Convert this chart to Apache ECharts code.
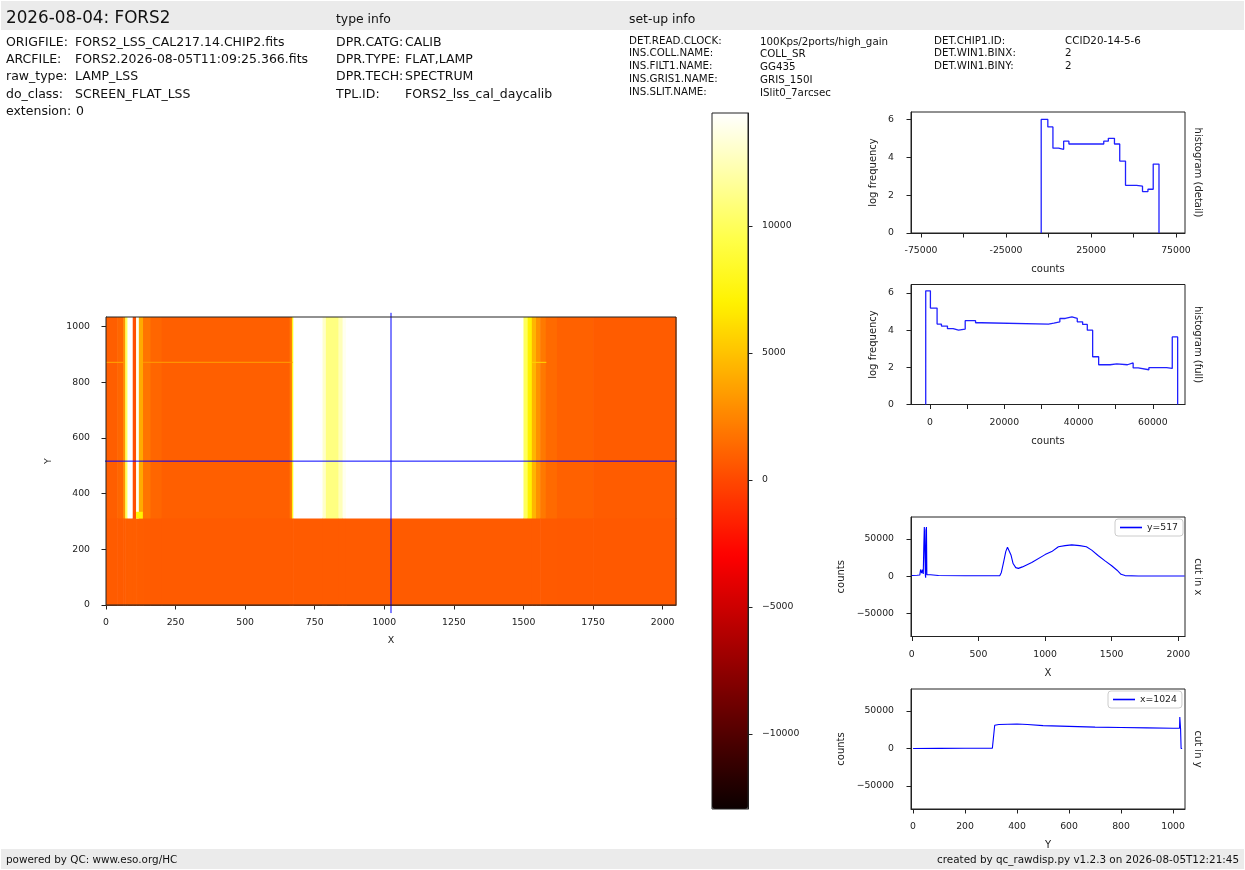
<!DOCTYPE html>
<html>
<head>
<meta charset="utf-8">
<title>FORS2 raw display</title>
<script src="https://cdn.jsdelivr.net/npm/echarts@6/dist/echarts.min.js"></script>
<style>
  html, body { margin: 0; padding: 0; background: #fff; }
  #main { width: 1245px; height: 870px; }
</style>
</head>
<body>
<div id="main"></div>
<script>
// header texts
const titleText = '2026-08-04: FORS2';
const fileKeys = ['ORIGFILE:', 'ARCFILE:', 'raw_type:', 'do_class:', 'extension:'];
const fileVals = ['FORS2_LSS_CAL217.14.CHIP2.fits', 'FORS2.2026-08-05T11:09:25.366.fits', 'LAMP_LSS', 'SCREEN_FLAT_LSS', '0'];
const typeKeys = ['DPR.CATG:', 'DPR.TYPE:', 'DPR.TECH:', 'TPL.ID:'];
const typeVals = ['CALIB', 'FLAT,LAMP', 'SPECTRUM', 'FORS2_lss_cal_daycalib'];
const setupKeys = ['DET.READ.CLOCK:', 'INS.COLL.NAME:', 'INS.FILT1.NAME:', 'INS.GRIS1.NAME:', 'INS.SLIT.NAME:'];
const setupVals = ['100Kps/2ports/high_gain', 'COLL_SR', 'GG435', 'GRIS_150I', 'ISlit0_7arcsec'];
const setupKeys2 = ['DET.CHIP1.ID:', 'DET.WIN1.BINX:', 'DET.WIN1.BINY:'];
const setupVals2 = ['CCID20-14-5-6', '2', '2'];
const footLeft = 'powered by QC: www.eso.org/HC';
const footRight = 'created by qc_rawdisp.py v1.2.3 on 2026-08-05T12:21:45';

const imgColEdges = [0, 40, 62, 69, 77, 96, 108, 118, 133, 160, 200, 660, 668, 673, 778, 790, 835, 850, 862, 1500, 1515, 1530, 1545, 1560, 1580, 1620, 1750, 2048];
const imgUpper = [900, 1200, 3000, 10000, 40000, 300, 14000, 4000, 1800, 1200, 950, 2000, 8000, 30000, 13000, 11000, 12500, 14000, 30000, 10000, 7000, 4500, 3000, 2000, 1400, 1000, 800];
const imgLower = [750, 750, 800, 850, 900, 900, 900, 850, 800, 780, 760, 760, 760, 760, 760, 760, 760, 760, 760, 760, 760, 760, 760, 740, 720, 700, 680];
const imgRowEdges = [0, 313, 1035];
// small features: x0, x1, y0, y1, counts
const imgSpots = [
  [0, 62, 872, 874, 3500],
  [133, 668, 872, 874, 3000],
  [1530, 1580, 872, 874, 5500],
  [108, 130, 313, 335, 7000]
];
const crossX = 1024, crossY = 517;
const crossXSpan = [-22, 2075], crossYSpan = [-29, 1050];

// colour bar
const cbarMin = -12950, cbarMax = 14450;
const cbarTicks = [-10000, -5000, 0, 5000, 10000];

// histogram (detail): bin edges and log frequency
const hdEdges = [-4300, -400, 2600, 5900, 8900, 12000, 32500, 35200, 38800, 41900, 45300, 51800, 55300, 58500, 61600, 65000];
const hdVals = [6.0, 5.6, 4.48, 4.42, 4.85, 4.7, 4.85, 5.0, 4.7, 3.8, 2.52, 2.47, 2.19, 2.31, 3.64];
// histogram (full)
const hfEdges = [-1170, 90, 1890, 3060, 4680, 6220, 7660, 9460, 12250, 13870, 31890, 33330, 34950, 36400, 38200, 39640, 41080, 42340, 43780, 45400, 48470, 50270, 53150, 54690, 56040, 58920, 63700, 65220, 66670];
const hfVals = [6.12, 5.19, 4.33, 4.22, 4.08, 4.0, 4.06, 4.51, 4.40, 4.33, 4.38, 4.45, 4.63, 4.72, 4.63, 4.45, 4.31, 4.0, 2.57, 2.14, 2.19, 2.14, 2.24, 1.97, 1.87, 1.98, 1.94, 3.64];

// cut in x at y=517
const cutXpos = [0, 40, 60, 66, 70, 74, 80, 86, 90, 94, 98, 102, 104, 106, 110, 113, 120, 140, 200, 400, 600, 660, 672, 690, 705, 718, 730, 745, 760, 780, 800, 830, 900, 1000, 1050, 1100, 1150, 1200, 1260, 1310, 1350, 1400, 1450, 1500, 1540, 1570, 1600, 1700, 1800, 2047];
const cutXval = [1000, 1200, 1500, 9000, 11000, 4000, 9000, 3000, 40000, 66000, 64000, 1000, -2000, 62000, 66000, 2000, 3000, 2000, 1000, 500, 500, 600, 5000, 20000, 33000, 39000, 37500, 28000, 17000, 11500, 10500, 12500, 18500, 29000, 33000, 39500, 41000, 42000, 41000, 39500, 35000, 27500, 20500, 14000, 8000, 2500, 800, 300, 200, 200];
// cut in y at x=1024
const cutYpos = [0, 100, 200, 305, 310, 314, 330, 400, 440, 500, 600, 700, 800, 900, 1000, 1025, 1026, 1029, 1031, 1035];
const cutYval = [0, 200, 300, 500, 1000, 31000, 32000, 32700, 32000, 30500, 29500, 28500, 28000, 27500, 27000, 27000, 42000, 26000, 0, 0];

const hotColors = ['#0b0000', '#470000', '#840000', '#c10000', '#fe0000', '#ff3c00', '#ff7900', '#ffb600', '#fff200', '#ffff48', '#ffffa4', '#ffffff'];
const font = 'DejaVu Sans';
const ink = '#222222';

// build image cells
const imgCells = [];
for (let i = 0; i < imgUpper.length; i++) {
  imgCells.push([imgColEdges[i], imgColEdges[i + 1], imgRowEdges[0], imgRowEdges[1], imgLower[i]]);
  imgCells.push([imgColEdges[i], imgColEdges[i + 1], imgRowEdges[1], imgRowEdges[2], imgUpper[i]]);
}
imgSpots.forEach(s => imgCells.push(s));

function stepData(edges, vals) {
  const d = [[edges[0], 0]];
  vals.forEach((v, i) => d.push([edges[i], v]));
  d.push([edges[edges.length - 1], vals[vals.length - 1]]);
  d.push([edges[edges.length - 1], 0]);
  return d;
}
const zip = (a, b) => a.map((v, i) => [v, b[i]]);
const uminus = v => (v < 0 ? '\u2212' + Math.abs(v) : String(v));

function axis(o) {
  return {
    type: 'value', gridIndex: o.grid, min: o.min, max: o.max, position: o.pos,
    axisLine: { show: true, onZero: false, lineStyle: { color: ink, width: 1 } },
    axisTick: { show: true, length: 4.5, customValues: o.ticks, lineStyle: { color: ink, width: 1 } },
    axisLabel: {
      show: true, customValues: o.labels || o.ticks, margin: o.margin,
      fontSize: 9.3, fontFamily: font, color: ink, formatter: o.fmt || (v => String(v))
    },
    splitLine: { show: false },
    name: o.name || '', nameLocation: 'middle', nameGap: o.gap || 0, nameRotate: o.rot,
    nameTextStyle: { fontSize: o.nameSize || 10, fontFamily: font, color: ink }
  };
}
function sideLabel(grid, text) {
  return {
    type: 'value', gridIndex: grid, min: 0, max: 1, position: 'right',
    axisLine: { show: false }, axisTick: { show: false }, axisLabel: { show: false }, splitLine: { show: false },
    name: text, nameLocation: 'middle', nameGap: 8, nameRotate: -90,
    nameTextStyle: { fontSize: 10, fontFamily: font, color: ink }
  };
}

// header graphics
const graphics = [
  { type: 'rect', shape: { x: 1, y: 1, width: 1243, height: 29 }, style: { fill: '#ebebeb' }, silent: true },
  { type: 'rect', shape: { x: 1, y: 849, width: 1243, height: 20 }, style: { fill: '#ebebeb' }, silent: true }
];
function txt(x, y, text, size, align) {
  graphics.push({ type: 'text', x: x, y: y, silent: true,
    style: { text: text, font: size + 'px "' + font + '"', fill: '#111', textAlign: align || 'left', textVerticalAlign: 'middle' } });
}
txt(6, 19, titleText, 16.8);
txt(336, 20, 'type info', 12.4);
txt(629, 20, 'set-up info', 12.4);
fileKeys.forEach((k, i) => { txt(6, 42.5 + i * 17.3, k, 12.5); txt(i === 4 ? 76 : 75, 42.5 + i * 17.3, fileVals[i], 12.5); });
typeKeys.forEach((k, i) => { txt(336, 42.5 + i * 17.3, k, 12.5); txt(405, 42.5 + i * 17.3, typeVals[i], 12.5); });
setupKeys.forEach((k, i) => { txt(629, 41 + i * 12.75, k, 10.3); txt(760, 42 + i * 12.75, setupVals[i], 10.3); });
setupKeys2.forEach((k, i) => { txt(934, 41 + i * 12.75, k, 10.3); txt(1065, 41 + i * 12.75, setupVals2[i], 10.3); });
txt(6, 860.5, footLeft, 10.4);
txt(1239, 860.5, footRight, 10.4, 'right');

const legendBase = {
  orient: 'horizontal', padding: [4, 5, 4, 5], itemWidth: 22, itemHeight: 1.6, icon: 'rect',
  backgroundColor: 'rgba(255,255,255,0.8)', borderColor: '#cccccc', borderWidth: 1, borderRadius: 3,
  textStyle: { fontSize: 9.3, fontFamily: font, color: ink }
};

const chart = echarts.init(document.getElementById('main'));
chart.setOption({
  animation: false,
  backgroundColor: '#ffffff',
  textStyle: { fontFamily: font },
  graphic: graphics,
  grid: [
    { left: 106, top: 317, width: 570, height: 288, show: true, z: 10, borderColor: ink, borderWidth: 1, backgroundColor: 'transparent' },
    { left: 911, top: 112, width: 274, height: 121, show: true, borderColor: ink, borderWidth: 1 },
    { left: 911, top: 284.5, width: 274, height: 120, show: true, borderColor: ink, borderWidth: 1 },
    { left: 911, top: 517, width: 274, height: 119.5, show: true, borderColor: ink, borderWidth: 1 },
    { left: 911, top: 689, width: 274, height: 120, show: true, borderColor: ink, borderWidth: 1 },
    { left: 712, top: 113, width: 36, height: 696, show: true, z: 10, borderColor: ink, borderWidth: 1, backgroundColor: 'transparent' }
  ],
  xAxis: [
    axis({ grid: 0, min: 0, max: 2048, pos: 'bottom', ticks: [0, 250, 500, 750, 1000, 1250, 1500, 1750, 2000], margin: 13.5, name: 'X', gap: 31, nameSize: 9.5 }),
    axis({ grid: 1, min: -80900, max: 80300, pos: 'bottom', ticks: [-75000, -50000, -25000, 0, 25000, 50000, 75000], labels: [-75000, -25000, 25000, 75000], margin: 13.5, name: 'counts', gap: 31.5 }),
    axis({ grid: 2, min: -5135, max: 68650, pos: 'bottom', ticks: [0, 10000, 20000, 30000, 40000, 50000, 60000], labels: [0, 20000, 40000, 60000], margin: 13.5, name: 'counts', gap: 31.5 }),
    axis({ grid: 3, min: -6, max: 2050, pos: 'bottom', ticks: [0, 500, 1000, 1500, 2000], margin: 13.5, name: 'X', gap: 31.5 }),
    axis({ grid: 4, min: -8, max: 1046, pos: 'bottom', ticks: [0, 200, 400, 600, 800, 1000], margin: 13.5, name: 'Y', gap: 31.5 }),
    { type: 'value', gridIndex: 5, min: 0, max: 1, show: false }
  ],
  yAxis: [
    axis({ grid: 0, min: 0, max: 1035, pos: 'left', ticks: [0, 200, 400, 600, 800, 1000], margin: 16, name: 'Y', gap: 52, rot: 90, nameSize: 9.5 }),
    axis({ grid: 1, min: 0, max: 6.39, pos: 'left', ticks: [0, 2, 4, 6], margin: 17, name: 'log frequency', gap: 32.5, rot: 90 }),
    axis({ grid: 2, min: 0, max: 6.46, pos: 'left', ticks: [0, 2, 4, 6], margin: 17, name: 'log frequency', gap: 32.5, rot: 90 }),
    axis({ grid: 3, min: -81000, max: 79500, pos: 'left', ticks: [-50000, 0, 50000], margin: 17, name: 'counts', gap: 65, rot: 90, fmt: uminus }),
    axis({ grid: 4, min: -80700, max: 79300, pos: 'left', ticks: [-50000, 0, 50000], margin: 17, name: 'counts', gap: 65, rot: 90, fmt: uminus }),
    axis({ grid: 5, min: cbarMin, max: cbarMax, pos: 'right', ticks: cbarTicks, margin: 14, fmt: uminus }),
    sideLabel(1, 'histogram (detail)'),
    sideLabel(2, 'histogram (full)'),
    sideLabel(3, 'cut in x'),
    sideLabel(4, 'cut in y')
  ],
  visualMap: {
    type: 'continuous', seriesIndex: 0, dimension: 4,
    min: cbarMin, max: cbarMax, orient: 'vertical',
    left: 712, top: 113, itemWidth: 36, itemHeight: 696, padding: 0,
    calculable: false, hoverLink: false, z: 4,
    inRange: { color: hotColors }
  },
  legend: [
    Object.assign({ data: ['y=517'], left: 1115, top: 519 }, legendBase),
    Object.assign({ data: ['x=1024'], left: 1108, top: 691 }, legendBase)
  ],
  series: [
    {
      type: 'custom', name: 'image', xAxisIndex: 0, yAxisIndex: 0,
      encode: { x: [0, 1], y: [2, 3] },
      data: imgCells,
      renderItem: function (params, api) {
        const p0 = api.coord([api.value(0), api.value(3)]);
        const p1 = api.coord([api.value(1), api.value(2)]);
        return {
          type: 'rect',
          shape: { x: p0[0], y: p0[1], width: p1[0] - p0[0] + 0.6, height: p1[1] - p0[1] + 0.6 },
          style: { fill: api.visual('color') }
        };
      }
    },
    {
      type: 'line', xAxisIndex: 0, yAxisIndex: 0, z: 5, clip: false, symbol: 'none', silent: true,
      data: [[crossX, crossYSpan[0]], [crossX, crossYSpan[1]]],
      lineStyle: { color: '#0000ff', width: 1 }
    },
    {
      type: 'line', xAxisIndex: 0, yAxisIndex: 0, z: 5, clip: false, symbol: 'none', silent: true,
      data: [[crossXSpan[0], crossY], [crossXSpan[1], crossY]],
      lineStyle: { color: '#0000ff', width: 1 }
    },
    {
      type: 'line', name: 'hist detail', xAxisIndex: 1, yAxisIndex: 1, step: 'end', symbol: 'none',
      data: stepData(hdEdges, hdVals), lineStyle: { color: '#2020ff', width: 1.3 }
    },
    {
      type: 'line', name: 'hist full', xAxisIndex: 2, yAxisIndex: 2, step: 'end', symbol: 'none',
      data: stepData(hfEdges, hfVals), lineStyle: { color: '#2020ff', width: 1.3 }
    },
    {
      type: 'line', name: 'y=517', xAxisIndex: 3, yAxisIndex: 3, symbol: 'none',
      data: zip(cutXpos, cutXval), lineStyle: { color: '#0000ff', width: 1.1 }, itemStyle: { color: '#0000ff' }
    },
    {
      type: 'line', name: 'x=1024', xAxisIndex: 4, yAxisIndex: 4, symbol: 'none',
      data: zip(cutYpos, cutYval), lineStyle: { color: '#0000ff', width: 1.1 }, itemStyle: { color: '#0000ff' }
    }
  ]
});
</script>
</body>
</html>
